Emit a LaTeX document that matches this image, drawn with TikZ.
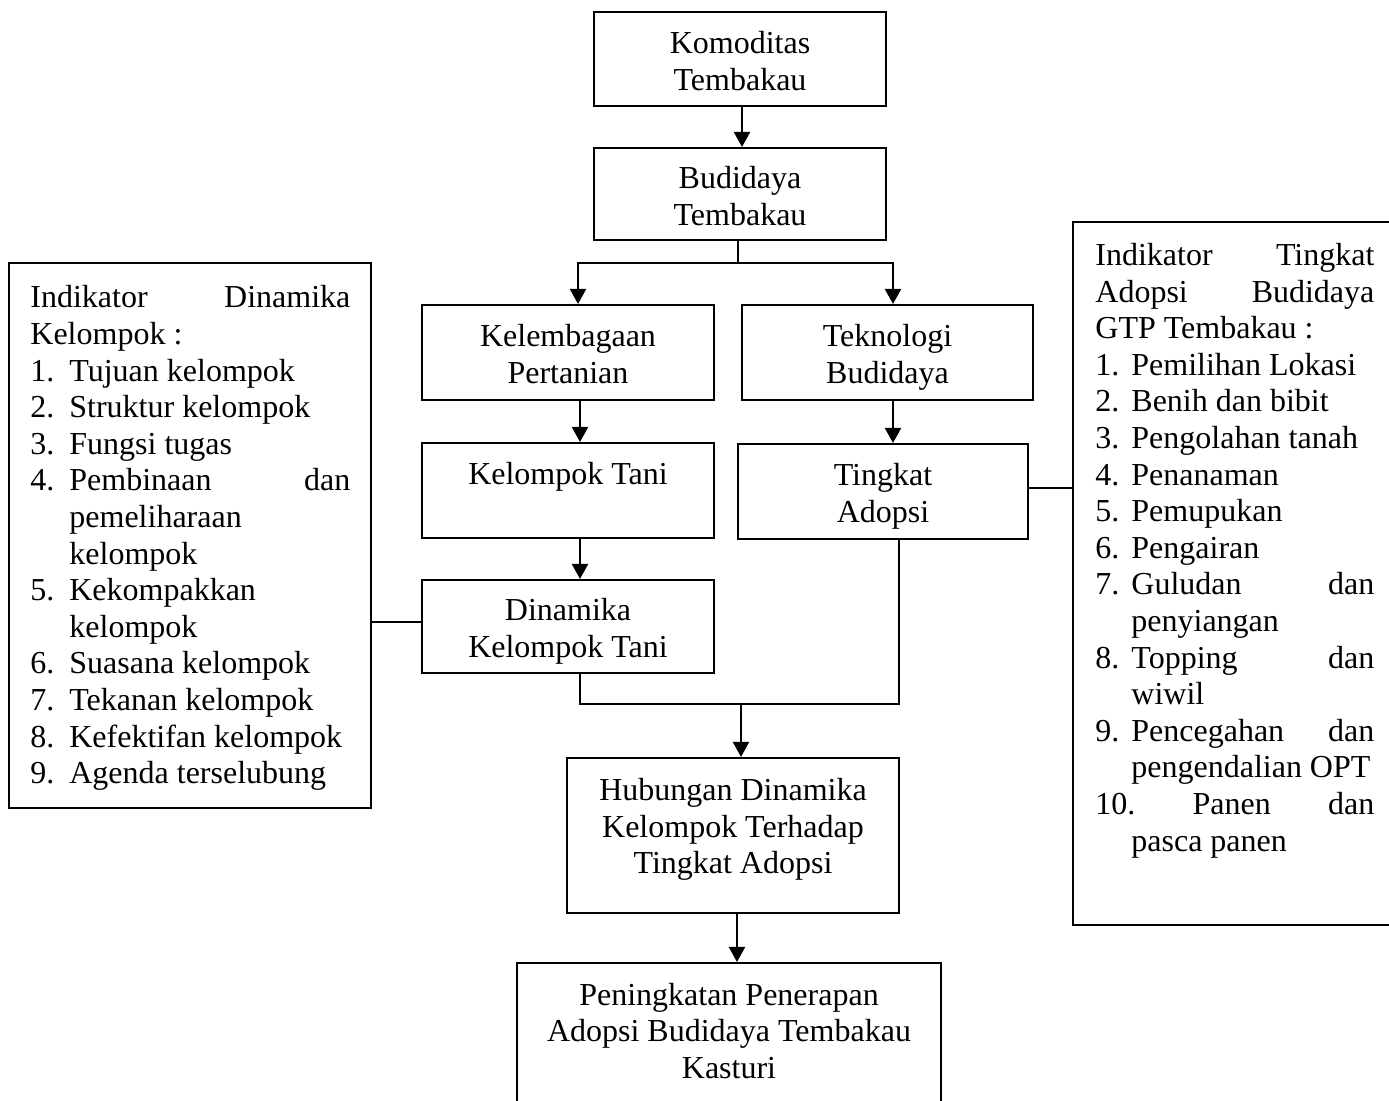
\documentclass[tikz,border=0pt]{standalone}
\usepackage{fontspec}
\setmainfont{Liberation Serif}
\usetikzlibrary{arrows.meta}
\newcommand\fsz{\fontsize{16pt}{18.3pt}\selectfont}
\newcommand\li[3]{\makebox[#1][l]{#2}#3}
\newcommand\tS{\rule{0pt}{16.8pt}}
\newcommand\bS{\rule[-4pt]{0pt}{4pt}}
\begin{document}
\begin{tikzpicture}[x=0.5pt,y=-0.5pt,
  box/.style={draw, line width=1pt, rectangle, inner sep=0pt, align=center, font=\fsz},
  txt/.style={inner sep=0pt, align=center, font=\fsz},
  conn/.style={line width=0.85pt},
  arr/.style={line width=1pt, -{Triangle[length=7.5pt,width=8pt]}}]
\useasboundingbox (0,0) rectangle (1389,1101);
\clip (0,0) rectangle (1389,1101);
\fill[white] (0,0) rectangle (1389,1101);

% central boxes
\node[box, minimum width=146pt, minimum height=47pt] (kom) at (740,59) {\tS Komoditas\\Tembakau\bS};
\node[box, minimum width=146pt, minimum height=46pt] (bud) at (740,194) {\tS Budidaya\\Tembakau\bS};
\node[box, minimum width=146pt, minimum height=47.5pt] (kel) at (568,352.5) {\tS Kelembagaan\\Pertanian\bS};
\node[box, minimum width=145.5pt, minimum height=47.5pt] (tek) at (887.5,352.5) {\tS Teknologi\\Budidaya\bS};
\node[box, minimum width=146pt, minimum height=47.5pt] (kt) at (568,490.5) {\tS Kelompok Tani\\\bS};
\node[box, minimum width=145pt, minimum height=47.5pt] (ta) at (883,491.5) {\tS Tingkat\\Adopsi\bS};
\node[box, minimum width=146pt, minimum height=46.5pt] (din) at (568,626.5) {\tS Dinamika\\Kelompok Tani\bS};
\node[box, minimum width=166pt, minimum height=77.5pt] (hub) at (733,835.5) {};
\node[txt] at (733,829.5) {Hubungan Dinamika\\Kelompok Terhadap\\Tingkat Adopsi};
\node[box, minimum width=212pt, minimum height=80pt] (pen) at (729,1043) {};
\node[txt] at (729,1031) {Peningkatan Penerapan\\Adopsi Budidaya Tembakau\\Kasturi};

% left indicator box
\node[box, minimum width=181pt, minimum height=272.5pt] (L) at (190,535.5) {};
\node[txt, anchor=base west] at (30,308) {\parbox[t]{160pt}{%
Indikator\hfill Dinamika\\
Kelompok :\\
\li{19.5pt}{1.}{Tujuan kelompok}\\
\li{19.5pt}{2.}{Struktur kelompok}\\
\li{19.5pt}{3.}{Fungsi tugas}\\
\li{19.5pt}{4.}{Pembinaan\hfill dan}\\
\hspace*{19.5pt}pemeliharaan\\
\hspace*{19.5pt}kelompok\\
\li{19.5pt}{5.}{Kekompakkan}\\
\hspace*{19.5pt}kelompok\\
\li{19.5pt}{6.}{Suasana kelompok}\\
\li{19.5pt}{7.}{Tekanan kelompok}\\
\li{19.5pt}{8.}{Kefektifan kelompok}\\
\li{19.5pt}{9.}{Agenda terselubung}}};

% right indicator box
\node[box, minimum width=165pt, minimum height=351.5pt] (R) at (1238,573.5) {};
\node[txt, anchor=base west] at (1095,265.5) {\parbox[t]{139.5pt}{%
Indikator\hfill Tingkat\\
Adopsi\hfill Budidaya\\
GTP Tembakau :\\
\li{18pt}{1.}{Pemilihan Lokasi}\\
\li{18pt}{2.}{Benih dan bibit}\\
\li{18pt}{3.}{Pengolahan tanah}\\
\li{18pt}{4.}{Penanaman}\\
\li{18pt}{5.}{Pemupukan}\\
\li{18pt}{6.}{Pengairan}\\
\li{18pt}{7.}{Guludan\hfill dan}\\
\hspace*{18pt}penyiangan\\
\li{18pt}{8.}{Topping\hfill dan}\\
\hspace*{18pt}wiwil\\
\li{18pt}{9.}{Pencegahan\hfill dan}\\
\hspace*{18pt}pengendalian OPT\\
10.\hfill Panen\hfill dan\\
\hspace*{18pt}pasca panen}};

% connectors
\draw[arr] ([xshift=1pt]kom.south) -- ([xshift=1pt]bud.north);
\coordinate (j1) at (738,263);
\draw[conn] (bud.south -| j1) -- (j1);
\draw[arr] (j1) -| ([xshift=5pt]kel.north);
\draw[arr] (j1) -| ([xshift=2.75pt]tek.north);
\draw[arr] ([xshift=6pt]kel.south) -- ([xshift=6pt]kt.north);
\draw[arr] ([xshift=6pt]kt.south) -- ([xshift=6pt]din.north);
\draw[arr] ([xshift=2.75pt]tek.south) -- ([xshift=2.75pt]tek.south |- ta.north);
\coordinate (j2) at (741,704);
\draw[conn] ([xshift=6pt]din.south) |- ([xshift=8pt]ta.south |- j2) -- ([xshift=8pt]ta.south);
\draw[arr] (j2) -- (j2 |- hub.north);
\draw[arr] ([xshift=2pt]hub.south) -- ([xshift=2pt]hub.south |- pen.north);
\coordinate (c1) at (0,622);
\draw[conn] (L.east |- c1) -- (din.west |- c1);
\coordinate (c2) at (0,488);
\draw[conn] (ta.east |- c2) -- (R.west |- c2);
\end{tikzpicture}
\end{document}
